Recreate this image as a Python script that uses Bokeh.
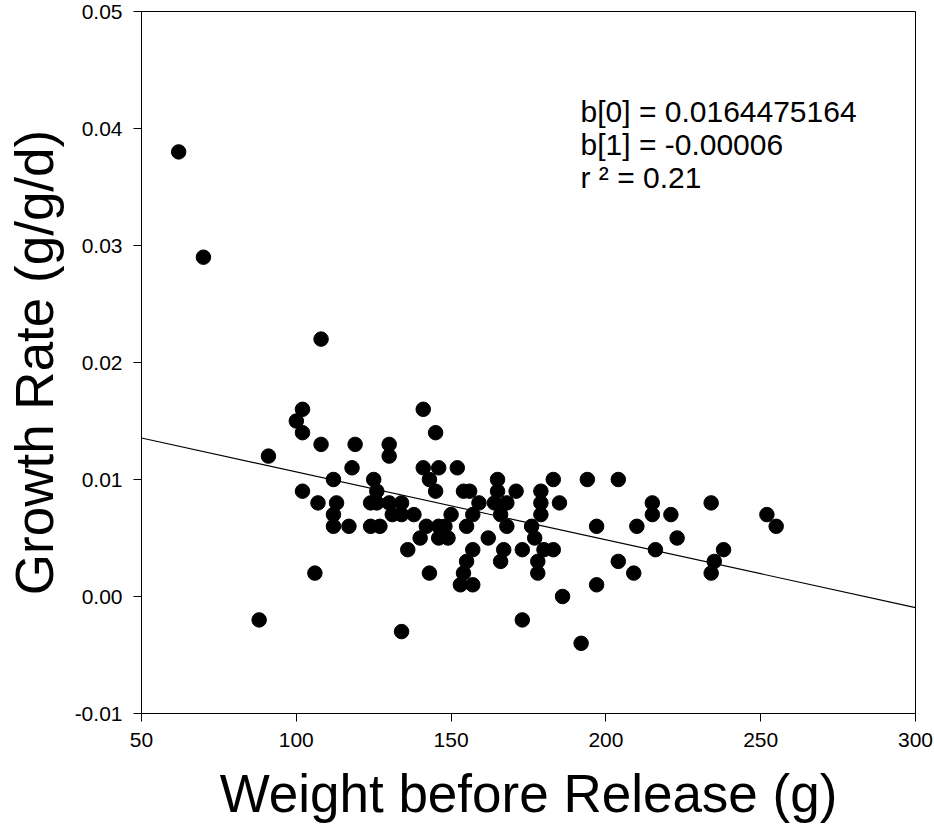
from bokeh.plotting import figure
from bokeh.models import FixedTicker, NumeralTickFormatter, Label, Range1d, ColumnDataSource
from bokeh.embed import file_html
from bokeh.resources import INLINE

# ---- data ----
weight = [62, 70, 108, 88, 91, 100, 102, 102, 102, 106, 107, 108, 112, 113, 112, 112,
          117, 118, 119, 124, 126, 124, 127, 125, 126, 130, 130, 130, 134, 131, 134, 138,
          136, 134, 140, 141, 141, 142, 143, 143, 145, 145, 146, 146, 148, 146, 149, 150,
          152, 153, 154, 154, 155, 155, 156, 157, 157, 157, 159, 162, 164, 165, 165, 166,
          166, 167, 168, 168, 171, 173, 173, 176, 177, 178, 178, 179, 179, 179, 180, 183,
          183, 185, 186, 192, 194, 197, 197, 204, 204, 209, 210, 215, 215, 216, 221, 223,
          234, 234, 235, 238, 252, 255]
growth = [0.038, 0.029, 0.022, -0.002, 0.012, 0.015, 0.016, 0.014, 0.009, 0.002, 0.008, 0.013,
          0.010, 0.008, 0.007, 0.006, 0.006, 0.011, 0.013, 0.008, 0.008, 0.006, 0.006, 0.010,
          0.009, 0.013, 0.012, 0.008, 0.008, 0.007, 0.007, 0.007, 0.004, -0.003, 0.005, 0.016,
          0.011, 0.006, 0.010, 0.002, 0.014, 0.009, 0.011, 0.006, 0.006, 0.005, 0.005, 0.007,
          0.011, 0.001, 0.002, 0.009, 0.003, 0.006, 0.009, 0.007, 0.004, 0.001, 0.008, 0.005,
          0.008, 0.010, 0.009, 0.003, 0.007, 0.004, 0.008, 0.006, 0.009, -0.002, 0.004, 0.006,
          0.005, 0.003, 0.002, 0.009, 0.008, 0.007, 0.004, 0.010, 0.004, 0.008, 0.000, -0.004,
          0.010, 0.006, 0.001, 0.010, 0.003, 0.002, 0.006, 0.008, 0.007, 0.004, 0.007, 0.005,
          0.008, 0.002, 0.003, 0.004, 0.007, 0.006]

x_ticks = [50, 100, 150, 200, 250, 300]
y_ticks = [-0.01, 0.0, 0.01, 0.02, 0.03, 0.04, 0.05]

b0 = 0.0164475164
b1 = -0.000058
stats_lines = ["b[0] = 0.0164475164", "b[1] = -0.00006", "r \u00b2 = 0.21"]

FONT = "Liberation Sans"

p = figure(width=934, height=831,
           x_range=Range1d(x_ticks[0], x_ticks[-1]),
           y_range=Range1d(y_ticks[0], y_ticks[-1]),
           output_backend="svg", toolbar_location=None,
           min_border_left=141, min_border_right=19,
           min_border_top=11, min_border_bottom=118,
           background_fill_color="white", border_fill_color="white")

p.outline_line_color = "black"
p.outline_line_width = 1
p.outline_line_alpha = 1
p.grid.visible = False

for ax in (p.xaxis[0], p.yaxis[0]):
    ax.axis_line_color = "black"
    ax.axis_line_width = 1
    ax.major_tick_line_color = "black"
    ax.major_tick_out = 8
    ax.major_tick_in = 0
    ax.minor_tick_line_color = None
    ax.major_label_text_font = FONT
    ax.major_label_text_font_size = "21px"
    ax.major_label_text_color = "black"
    ax.major_label_standoff = 11
    ax.axis_label_text_font = FONT
    ax.axis_label_text_font_style = "normal"
    ax.axis_label_text_font_size = "53px"
    ax.axis_label_text_color = "black"

p.xaxis.ticker = FixedTicker(ticks=x_ticks)
p.yaxis.ticker = FixedTicker(ticks=y_ticks)
p.xaxis.formatter = NumeralTickFormatter(format="0")
p.yaxis.formatter = NumeralTickFormatter(format="0.00")
p.xaxis.axis_label = "Weight before Release (g)"
p.yaxis.axis_label = "Growth Rate (g/g/d)"
p.xaxis.axis_label_standoff = 14
p.yaxis.axis_label_standoff = 8

# regression line
lx = [x_ticks[0], x_ticks[-1]]
ly = [b0 + b1 * v for v in lx]
p.line(lx, ly, line_color="black", line_width=1.1)

src = ColumnDataSource(dict(x=weight, y=growth))
p.scatter("x", "y", source=src, size=14.5, marker="circle",
          fill_color="black", line_color="black")

label_x = 191.8
label_ys = [0.04149, 0.03865, 0.03581]
for t, yy in zip(stats_lines, label_ys):
    p.add_layout(Label(x=label_x, y=yy, text=t, text_font=FONT,
                       text_font_size="30px", text_color="black",
                       text_baseline="alphabetic", text_align="left"))

open("out.html", "w").write(file_html(p, INLINE))
